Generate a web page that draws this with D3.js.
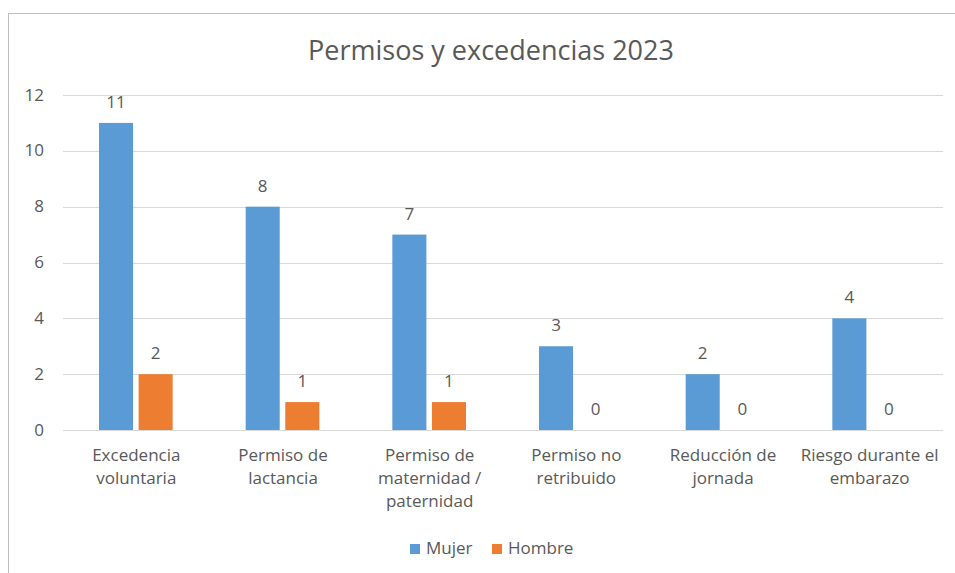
<!DOCTYPE html>
<html>
<head>
<meta charset="utf-8">
<script src="https://cdn.jsdelivr.net/npm/d3@7"></script>
<style>
  body { margin: 0; background: #fff; }
  text { font-family: "Open Sans", "Noto Sans", sans-serif; fill: #595959; }
</style>
</head>
<body>
<svg id="chart" width="955" height="573"></svg>
<script>
// data
var categories = ["Excedencia\nvoluntaria", "Permiso de\nlactancia", "Permiso de\nmaternidad /\npaternidad",
  "Permiso no\nretribuido", "Reducción de\njornada", "Riesgo durante el\nembarazo"];
var seriesNames = ["Mujer", "Hombre"];
var mujer = [11, 8, 7, 3, 2, 4];
var hombre = [2, 1, 1, 0, 0, 0];
var yTicks = [0, 2, 4, 6, 8, 10, 12];
var title = "Permisos y excedencias 2023";

var colors = { Mujer: "#5b9bd5", Hombre: "#ed7d31" };

var svg = d3.select("#chart");
var margin = { left: 63, right: 12, top: 95, bottom: 143 };
var width = 955 - margin.left - margin.right;
var height = 573 - margin.top - margin.bottom;

// chart frame (clipped on right and bottom like the screenshot)
svg.append("rect")
  .attr("x", 8.5).attr("y", 13.5)
  .attr("width", 980).attr("height", 600)
  .attr("fill", "#fff")
  .attr("stroke", "#bfbfbf");

svg.append("text")
  .attr("x", 491).attr("y", 60)
  .attr("text-anchor", "middle")
  .style("font-size", "27px")
  .text(title);

var g = svg.append("g").attr("transform", "translate(" + margin.left + "," + margin.top + ")");

var x = d3.scaleBand().domain(categories).range([0, width]);
var xSub = d3.scaleBand().domain(seriesNames).range([36, x.bandwidth() - 37]).paddingInner(0.14);
var y = d3.scaleLinear().domain([0, 12]).range([height, 0]);

// gridlines
g.append("g").selectAll("line")
  .data(yTicks)
  .enter().append("line")
  .attr("x1", 0).attr("x2", width)
  .attr("y1", function(d) { return Math.round(y(d)) + 0.5; })
  .attr("y2", function(d) { return Math.round(y(d)) + 0.5; })
  .attr("stroke", "#d9d9d9");

// y axis labels
var yAxis = g.append("g")
  .call(d3.axisLeft(y).tickValues(yTicks).tickSize(0).tickPadding(19));
yAxis.select(".domain").remove();
yAxis.selectAll("text").style("font-size", "17px").attr("fill", "#595959")
  .attr("font-family", null).attr("dy", "0.3em");

var rows = categories.map(function(c, i) { return { cat: c, values: [mujer[i], hombre[i]] }; });

var groups = g.selectAll("g.cat")
  .data(rows)
  .enter().append("g")
  .attr("class", "cat")
  .attr("transform", function(d) { return "translate(" + x(d.cat) + ",0)"; });

groups.selectAll("rect")
  .data(function(d) { return d.values.map(function(v, j) { return { name: seriesNames[j], value: v }; }); })
  .enter().append("rect")
  .attr("x", function(d) { return xSub(d.name); })
  .attr("width", xSub.bandwidth())
  .attr("y", function(d) { return y(d.value); })
  .attr("height", function(d) { return height - y(d.value); })
  .attr("fill", function(d) { return colors[d.name]; });

groups.selectAll("text.val")
  .data(function(d) { return d.values.map(function(v, j) { return { name: seriesNames[j], value: v }; }); })
  .enter().append("text")
  .attr("class", "val")
  .attr("x", function(d) { return xSub(d.name) + xSub.bandwidth() / 2; })
  .attr("y", function(d) { return y(d.value) - 15; })
  .attr("text-anchor", "middle")
  .style("font-size", "17px")
  .text(function(d) { return d.value; });

// category labels
var xAxis = g.append("g")
  .attr("transform", "translate(0," + height + ")");
xAxis.selectAll("text")
  .data(categories)
  .enter().append("text")
  .attr("x", function(d) { return x(d) + x.bandwidth() / 2; })
  .attr("y", 31)
  .attr("text-anchor", "middle")
  .style("font-size", "17px")
  .each(function(d) {
    var t = d3.select(this);
    d.split("\n").forEach(function(line, i) {
      t.append("tspan").attr("x", x(d) + x.bandwidth() / 2).attr("dy", i ? 23 : 0).text(line);
    });
  });

// legend
var legend = svg.append("g").attr("transform", "translate(410,543)");
var items = legend.selectAll("g")
  .data(seriesNames)
  .enter().append("g")
  .attr("transform", function(d, i) { return "translate(" + (i * 82) + ",0)"; });
items.append("rect")
  .attr("width", 10).attr("height", 10)
  .attr("y", 1)
  .attr("fill", function(d) { return colors[d]; });
items.append("text")
  .attr("x", 16).attr("y", 11)
  .style("font-size", "17px")
  .text(function(d) { return d; });
</script>
</body>
</html>
